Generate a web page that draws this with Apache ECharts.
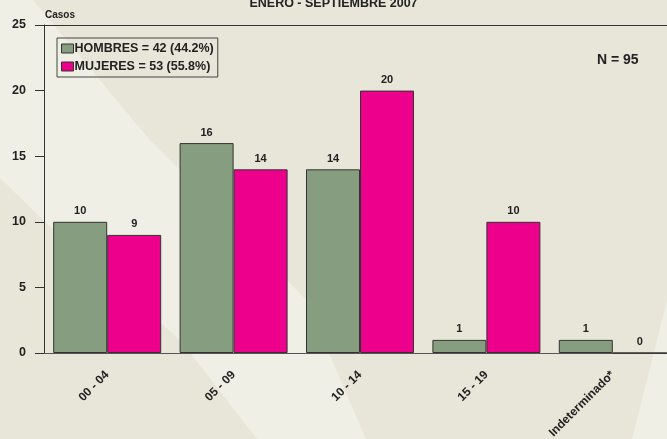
<!DOCTYPE html>
<html>
<head>
<meta charset="utf-8">
<script src="https://cdn.jsdelivr.net/npm/echarts@6/dist/echarts.min.js"></script>
<style>
  html, body { margin: 0; padding: 0; background: #e8e5d9; }
  #chart { width: 667px; height: 439px; }
</style>
</head>
<body>
<div id="chart"></div>
<script>
// datos del grafico
const categorias = ['00 - 04', '05 - 09', '10 - 14', '15 - 19', 'Indeterminado*']
const hombres = [10, 16, 14, 1, 1]
const mujeres = [9, 14, 20, 10, 0]
const yTicks = [0, 5, 10, 15, 20, 25]

const totalH = hombres.reduce((a, b) => a + b, 0)
const totalM = mujeres.reduce((a, b) => a + b, 0)
const total = totalH + totalM
const nombreH = 'HOMBRES = ' + totalH + ' (' + (totalH * 100 / total).toFixed(1) + '%)'
const nombreM = 'MUJERES = ' + totalM + ' (' + (totalM * 100 / total).toFixed(1) + '%)'

const fuente = '"Liberation Sans", Arial, sans-serif'
const colorTexto = '#222'

let myChart = echarts.init(document.getElementById('chart'))

// etiqueta encima de la barra
const etiqueta = {
  show: true,
  position: 'top',
  distance: 5,
  color: colorTexto,
  fontFamily: fuente,
  fontWeight: 'bold',
  fontSize: 11
}

myChart.setOption({
  backgroundColor: '#e8e5d9',
  animation: false,
  // franjas claras del fondo
  graphic: [
    {
      type: 'polygon',
      z: -10,
      silent: true,
      shape: {
        points: [[0, 0], [33, 0], [150, 140], [240, 230], [306, 300], [366, 439],
          [257, 439], [180, 340], [43, 220], [0, 178]]
      },
      style: { fill: '#f0efe5' }
    },
    {
      type: 'polygon',
      z: -10,
      silent: true,
      shape: { points: [[667, 300], [652, 360], [632, 439], [667, 439]] },
      style: { fill: '#f0efe5' }
    },
    {
      type: 'text',
      left: 'center',
      top: -3,
      style: {
        text: 'ENERO - SEPTIEMBRE 2007',
        fill: colorTexto,
        font: 'bold 12.5px ' + fuente
      }
    },
    {
      type: 'text',
      left: 45,
      top: 10,
      style: { text: 'Casos', fill: colorTexto, font: 'bold 10px ' + fuente }
    },
    {
      type: 'text',
      left: 597,
      top: 53,
      style: { text: 'N = 95', fill: colorTexto, font: 'bold 14px ' + fuente }
    }
  ],
  legend: {
    orient: 'vertical',
    left: 57,
    top: 38,
    padding: [4, 4, 4, 4],
    itemGap: 5,
    itemWidth: 12,
    itemHeight: 9,
    icon: 'rect',
    borderColor: '#444',
    borderWidth: 1,
    itemStyle: { borderColor: '#333', borderWidth: 1 },
    textStyle: {
      color: colorTexto,
      fontFamily: fuente,
      fontWeight: 'bold',
      fontSize: 12.5,
      padding: [0, 0, 0, -4]
    },
    data: [nombreH, nombreM]
  },
  grid: {
    left: 44,
    right: -9,
    top: 25,
    bottom: 86,
    containLabel: false,
    outerBoundsMode: 'none'
  },
  xAxis: {
    type: 'category',
    data: categorias,
    axisLine: { lineStyle: { color: '#555', width: 1 } },
    axisTick: { alignWithLabel: true, length: 9, lineStyle: { color: '#333' } },
    axisLabel: {
      rotate: 45,
      margin: 20,
      color: colorTexto,
      fontFamily: fuente,
      fontWeight: 'bold',
      fontSize: 12
    }
  },
  yAxis: {
    type: 'value',
    min: yTicks[0],
    max: yTicks[yTicks.length - 1],
    interval: 5,
    splitLine: { show: false },
    axisLine: { show: true, lineStyle: { color: '#333' } },
    axisTick: { show: true, length: 9, lineStyle: { color: '#333' } },
    axisLabel: {
      margin: 18,
      color: colorTexto,
      fontFamily: fuente,
      fontWeight: 'bold',
      fontSize: 12.5
    }
  },
  series: [
    {
      name: nombreH,
      type: 'bar',
      data: hombres,
      barWidth: 54,
      barGap: '0%',
      itemStyle: { color: '#869e7f', borderColor: '#333', borderWidth: 1 },
      label: etiqueta,
      // linea superior del area
      markLine: {
        silent: true,
        symbol: 'none',
        label: { show: false },
        lineStyle: { color: '#333', width: 1, type: 'solid' },
        data: [{ yAxis: yTicks[yTicks.length - 1] }]
      }
    },
    {
      name: nombreM,
      type: 'bar',
      data: mujeres,
      barWidth: 54,
      itemStyle: { color: '#ec008c', borderColor: '#333', borderWidth: 1 },
      label: etiqueta
    }
  ]
})
</script>
</body>
</html>
